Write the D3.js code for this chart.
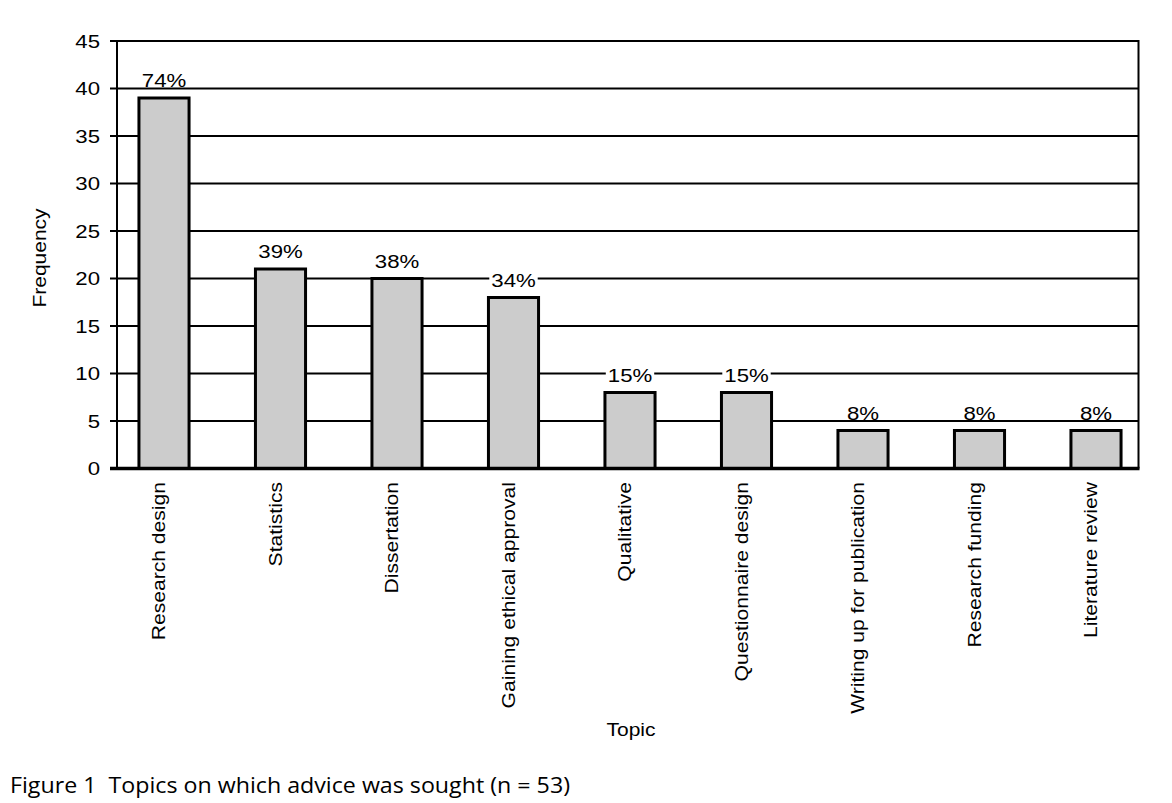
<!DOCTYPE html>
<html><head><meta charset="utf-8">
<script src="https://cdn.jsdelivr.net/npm/d3@7"></script>
<style>
html,body{margin:0;padding:0;background:#fff;}
svg{display:block;}
</style></head>
<body>
<svg id="chart" width="1172" height="803"></svg>
<script>
const categories = ["Research design","Statistics","Dissertation","Gaining ethical approval","Qualitative","Questionnaire design","Writing up for publication","Research funding","Literature review"];
const frequencies = [39, 21, 20, 18, 8, 8, 4, 4, 4];
const percentLabels = ["74%","39%","38%","34%","15%","15%","8%","8%","8%"];
const yTicks = [0,5,10,15,20,25,30,35,40,45];
const yTitle = "Frequency";
const xTitle = "Topic";
const caption = "Figure 1  Topics on which advice was sought (n = 53)";

const svg = d3.select("#chart");
const FONT = "'Liberation Sans', Arial, Helvetica, sans-serif";
const SX = 1.2;

const plotLeft = 117, plotRight = 1138.5, plotTop = 41, plotBottom = 468.5;

const y = d3.scaleLinear().domain([0,45]).range([plotBottom, plotTop]);
const x = d3.scaleBand().domain(categories).range([105.75, 1154.25]).paddingInner(0.57).paddingOuter(0.285);

// gridlines
svg.append("g").selectAll("line").data(yTicks.filter(d => d > 0)).join("line")
  .attr("x1", plotLeft).attr("x2", plotRight)
  .attr("y1", d => y(d)).attr("y2", d => y(d))
  .attr("stroke", "#000").attr("stroke-width", 2);

// frame lines + ticks
svg.append("line").attr("x1", plotLeft).attr("x2", plotLeft).attr("y1", plotTop - 1).attr("y2", plotBottom)
  .attr("stroke", "#000").attr("stroke-width", 2);
svg.append("line").attr("x1", plotRight).attr("x2", plotRight).attr("y1", plotTop - 1).attr("y2", plotBottom)
  .attr("stroke", "#000").attr("stroke-width", 2);
svg.append("g").selectAll("line").data(yTicks).join("line")
  .attr("x1", 110).attr("x2", plotLeft)
  .attr("y1", d => y(d)).attr("y2", d => y(d))
  .attr("stroke", "#000").attr("stroke-width", 2);
svg.append("g").selectAll("text").data(yTicks).join("text")
  .attr("transform", d => `translate(100,${y(d) + 6.5}) scale(${SX},1)`)
  .attr("text-anchor", "end")
  .attr("font-family", FONT).attr("font-size", 18.5).attr("fill", "#000")
  .text(d => d);

// bars
svg.append("g").selectAll("rect").data(categories).join("rect")
  .attr("x", d => x(d)).attr("width", x.bandwidth())
  .attr("y", (d,i) => y(frequencies[i])).attr("height", (d,i) => y(0) - y(frequencies[i]))
  .attr("fill", "#cccccc").attr("stroke", "#000").attr("stroke-width", 3);

// bottom axis
svg.append("line").attr("x1", 110).attr("x2", plotRight + 1).attr("y1", plotBottom).attr("y2", plotBottom)
  .attr("stroke", "#000").attr("stroke-width", 3.5);

// percentage labels with white knockout
const lab = svg.append("g").selectAll("g").data(categories).join("g")
  .attr("transform", (d,i) => `translate(${x(d) + x.bandwidth()/2},${y(frequencies[i]) - 11})`);
lab.append("text")
  .attr("transform", `scale(${SX},1)`)
  .attr("text-anchor", "middle")
  .attr("font-family", FONT).attr("font-size", 18.5).attr("fill", "#000")
  .text((d,i) => percentLabels[i])
  .each(function(){
    const bb = this.getBBox();
    d3.select(this.parentNode).insert("rect", "text")
      .attr("x", bb.x * SX - 2).attr("width", bb.width * SX + 4)
      .attr("y", -14.5).attr("height", 14.5)
      .attr("fill", "#fff");
  });

// category labels
svg.append("g").selectAll("text").data(categories).join("text")
  .attr("transform", d => `translate(${x(d) + x.bandwidth()/2 + 1},482) rotate(-90) scale(${SX},1)`)
  .attr("text-anchor", "end")
  .attr("font-family", FONT).attr("font-size", 17.6).attr("fill", "#000")
  .text(d => d);

// axis titles
svg.append("text")
  .attr("transform", `translate(46,258) rotate(-90) scale(${SX},1)`)
  .attr("text-anchor", "middle")
  .attr("font-family", FONT).attr("font-size", 17.5).attr("fill", "#000")
  .text(yTitle);
svg.append("text")
  .attr("transform", `translate(631,736) scale(${SX},1)`)
  .attr("text-anchor", "middle")
  .attr("font-family", FONT).attr("font-size", 17.5).attr("fill", "#000")
  .text(xTitle);

// caption
svg.append("text")
  .attr("x", 10).attr("y", 793)
  .attr("xml:space", "preserve").style("white-space", "pre")
  .attr("textLength", 560).attr("lengthAdjust", "spacingAndGlyphs")
  .attr("font-family", "'Open Sans', 'Noto Sans', sans-serif").attr("font-size", 22).attr("fill", "#000")
  .text(caption);
</script>
</body></html>
